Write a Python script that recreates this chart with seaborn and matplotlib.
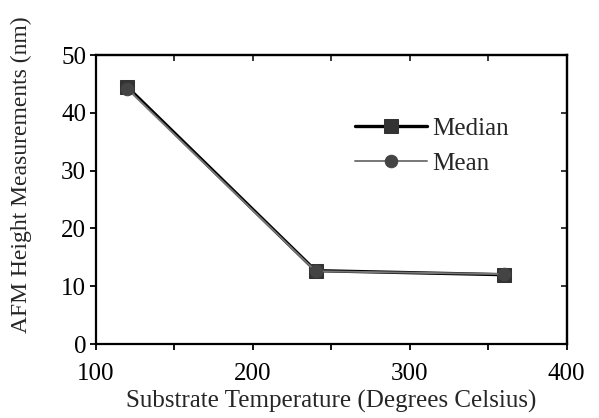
import matplotlib
matplotlib.use('Agg')
import matplotlib.pyplot as plt
import seaborn as sns
import pandas as pd
from matplotlib.ticker import MultipleLocator, NullFormatter

# data
temps = [120, 240, 360]
median_nm = [44.5, 12.7, 12.0]
mean_nm = [44.2, 12.6, 12.1]

sns.set_theme(style='ticks')
plt.rcParams['font.family'] = ['Liberation Serif', 'DejaVu Serif']

df = pd.DataFrame({
    'temp': temps * 2,
    'height': median_nm + mean_nm,
    'stat': ['Median'] * 3 + ['Mean'] * 3,
})

fig = plt.figure(figsize=(5.99, 4.18), dpi=100)
ax = fig.add_axes([0.160, 0.177, 0.786, 0.691])

sns.lineplot(data=df[df.stat == 'Median'], x='temp', y='height', ax=ax,
             color='#000000', lw=2.4, marker='s', markersize=10,
             markerfacecolor='#333333', markeredgecolor='#333333', label='Median')
sns.lineplot(data=df[df.stat == 'Mean'], x='temp', y='height', ax=ax,
             color='#777777', lw=1.4, marker='o', markersize=9,
             markerfacecolor='#444444', markeredgecolor='#444444', label='Mean')

ax.set_xlim(100, 400)
ax.set_ylim(0, 50)
ax.xaxis.set_major_locator(MultipleLocator(100))
ax.xaxis.set_minor_locator(MultipleLocator(50))
ax.yaxis.set_major_locator(MultipleLocator(10))
ax.tick_params(which='both', direction='out', length=4, width=1.3,
               labelsize=18, colors='black', pad=3)
ax.tick_params(axis='x', which='both', pad=10)
for s in ax.spines.values():
    s.set_linewidth(1.6)
    s.set_color('black')

# inward ticks on top and right
top = ax.secondary_xaxis('top')
top.xaxis.set_major_locator(MultipleLocator(100))
top.xaxis.set_minor_locator(MultipleLocator(50))
top.xaxis.set_major_formatter(NullFormatter())
top.tick_params(which='both', direction='in', length=4, width=1.3)
top.spines['top'].set_linewidth(1.6)
right = ax.secondary_yaxis('right')
right.yaxis.set_major_locator(MultipleLocator(10))
right.yaxis.set_major_formatter(NullFormatter())
right.tick_params(which='both', direction='in', length=4, width=1.3)
right.spines['right'].set_linewidth(1.6)

ax.set_xlabel('Substrate Temperature (Degrees Celsius)', fontsize=18, labelpad=3)
ax.set_ylabel('AFM Height Measurements (nm)', fontsize=17)
ax.yaxis.set_label_coords(-0.135, 0.585)

leg = ax.legend(loc='upper left', bbox_to_anchor=(0.55, 0.785), frameon=False,
                borderpad=0, borderaxespad=0, fontsize=18, handlelength=2.9,
                handletextpad=0.2, labelspacing=0.5)

fig.savefig('out.png', dpi=100)
